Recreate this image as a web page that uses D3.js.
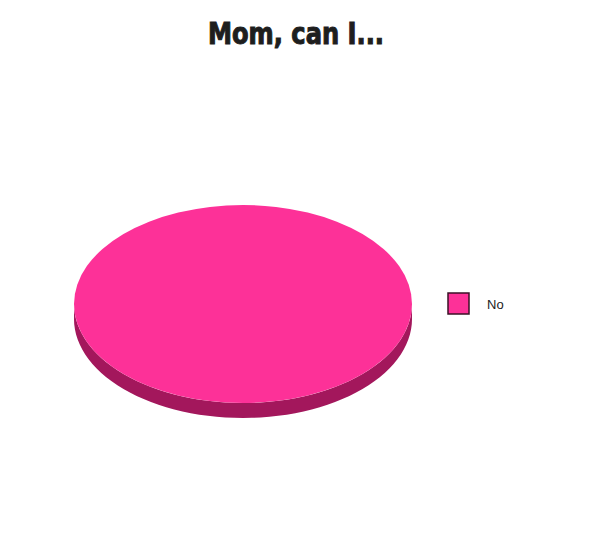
<!DOCTYPE html>
<html>
<head>
<meta charset="utf-8">
<script src="https://d3js.org/d3.v7.min.js"></script>
<style>
  html, body { margin: 0; padding: 0; background: #fff; }
  .title { font-family: Impact, "DejaVu Sans Condensed", "Liberation Sans Narrow", sans-serif; font-weight: bold; fill: #1e1e1e; stroke: #1e1e1e; stroke-width: 1; }
  .legend text { font-family: "Liberation Sans", Arial, sans-serif; font-size: 13px; fill: #222; }
</style>
</head>
<body>
<div id="chart"></div>
<script>
// chart data
var categories = ["No"];
var values = [100];
var topColors = ["#fd3198"];
var sideColors = ["#a3175c"];
var titleText = "Mom, can I...";

var width = 600, height = 540;
var cx = 243, cy = 304, rx = 169, ry = 99, depth = 15;

var svg = d3.select("#chart").append("svg")
    .attr("width", width)
    .attr("height", height);

svg.append("rect").attr("width", width).attr("height", height).attr("fill", "#fff");

// title
svg.append("text")
    .attr("class", "title")
    .attr("x", 296)
    .attr("y", 44)
    .attr("text-anchor", "middle")
    .attr("font-size", 30)
    .attr("textLength", 176)
    .attr("lengthAdjust", "spacingAndGlyphs")
    .text(titleText);

var pie = d3.pie().sort(null).startAngle(0).endAngle(2 * Math.PI);
var slices = pie(values);

var color = d3.scaleOrdinal().domain(categories).range(topColors);
var sideColor = d3.scaleOrdinal().domain(categories).range(sideColors);

// point on the ellipse for a d3 arc angle (0 = 12 o'clock, clockwise)
function pt(a, dy) {
    return [cx + rx * Math.sin(a), cy - ry * Math.cos(a) + (dy || 0)];
}

// side wall of the 3D pie: only the front half (angles pi/2..3pi/2) shows
function sidePath(d) {
    var a0 = Math.max(d.startAngle, Math.PI / 2),
        a1 = Math.min(d.endAngle, 3 * Math.PI / 2);
    if (a1 <= a0) return null;
    var n = 60, p = d3.path(), i, a, q;
    for (i = 0; i <= n; i++) {
        a = a0 + (a1 - a0) * i / n;
        q = pt(a, 0);
        if (i === 0) p.moveTo(q[0], q[1]); else p.lineTo(q[0], q[1]);
    }
    for (i = n; i >= 0; i--) {
        a = a0 + (a1 - a0) * i / n;
        q = pt(a, depth);
        p.lineTo(q[0], q[1]);
    }
    p.closePath();
    return p.toString();
}

var g = svg.append("g");

g.selectAll("path.side")
    .data(slices)
    .enter().append("path")
    .attr("class", "side")
    .attr("d", sidePath)
    .attr("fill", function (d, i) { return sideColor(categories[i]); });

var arc = d3.arc().innerRadius(0).outerRadius(rx);

g.append("g")
    .attr("transform", "translate(" + cx + "," + cy + ") scale(1," + (ry / rx) + ")")
    .selectAll("path.top")
    .data(slices)
    .enter().append("path")
    .attr("class", "top")
    .attr("d", arc)
    .attr("fill", function (d, i) { return color(categories[i]); });

// legend
var legend = svg.append("g").attr("class", "legend")
    .attr("transform", "translate(448,293)");

var item = legend.selectAll("g")
    .data(categories)
    .enter().append("g")
    .attr("transform", function (d, i) { return "translate(0," + (i * 28) + ")"; });

item.append("rect")
    .attr("width", 21)
    .attr("height", 21)
    .attr("fill", function (d) { return color(d); })
    .attr("stroke", "#3a1026")
    .attr("stroke-width", 1.5);

item.append("text")
    .attr("x", 39)
    .attr("y", 16)
    .text(function (d) { return d; });
</script>
</body>
</html>
